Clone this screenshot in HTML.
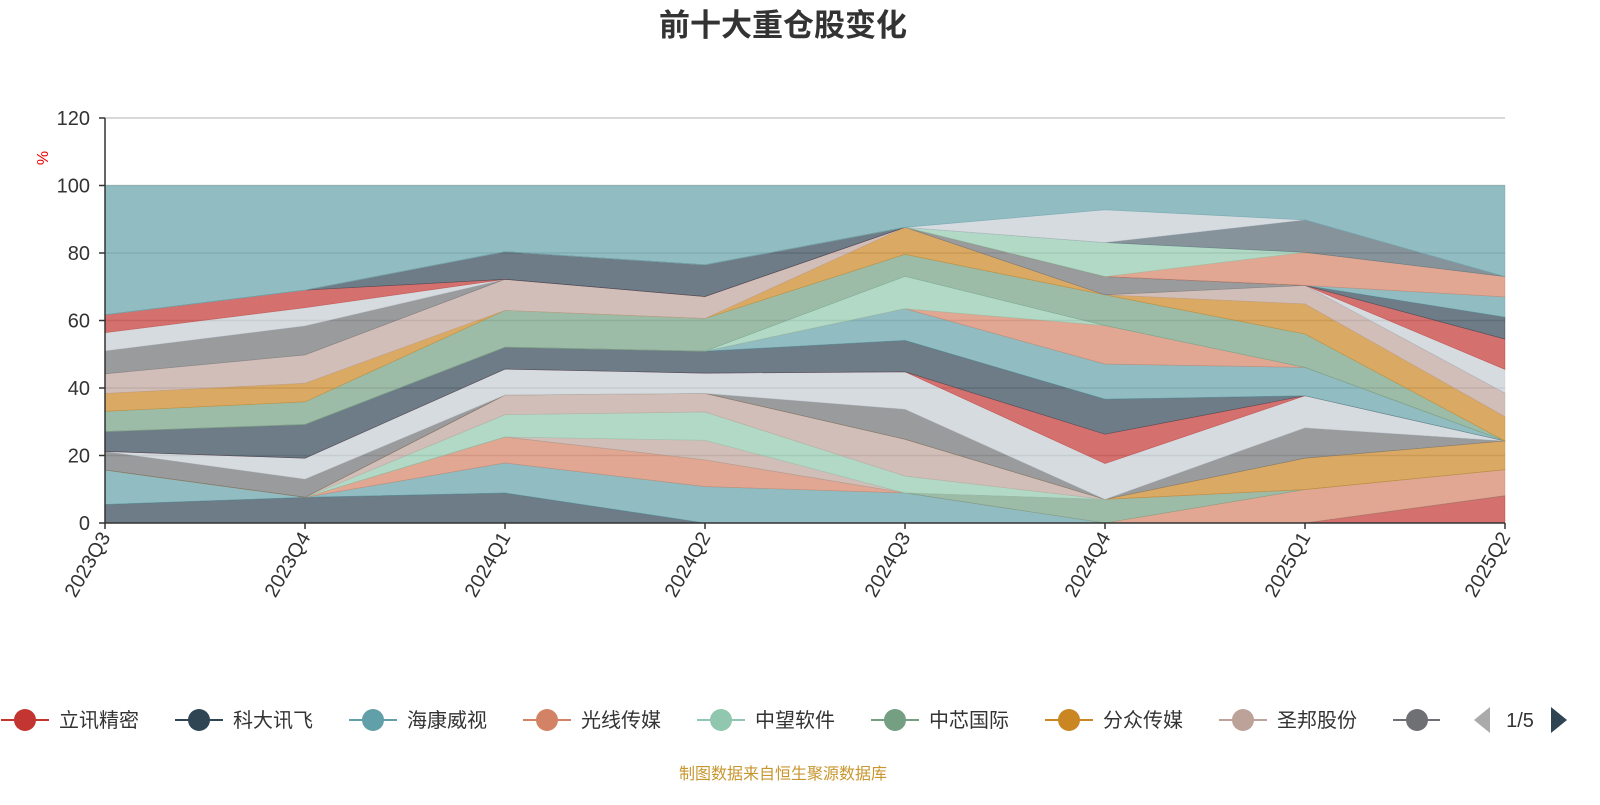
<!DOCTYPE html>
<html><head><meta charset="utf-8"><style>
html,body{margin:0;padding:0;background:#fff;}
svg text{font-family:"Liberation Sans","Noto Sans CJK SC",sans-serif;}
</style></head><body>
<svg id="chart" width="1600" height="800" viewBox="0 0 1600 800" xmlns="http://www.w3.org/2000/svg">
<text x="783" y="36" text-anchor="middle" font-size="31" font-weight="bold" fill="#333">前十大重仓股变化</text>
<text x="0" y="0" transform="translate(48,158) rotate(-90)" text-anchor="middle" font-size="16" fill="#e00">%</text>
<g id="grid"></g>
<g id="areas"></g>
<g id="axes"></g>
<g id="legend"></g>
<g>
<polygon points="1490,707 1490,733 1474,720" fill="#aaa"/>
<text x="1520" y="727" text-anchor="middle" font-size="20" fill="#333">1/5</text>
<polygon points="1551,707 1551,733 1567,720" fill="#2f4554"/>
</g>
<text x="783" y="779" text-anchor="middle" font-size="16" fill="#c8962e">制图数据来自恒生聚源数据库</text>
</svg>
<script>
const categories=["2023Q3","2023Q4","2024Q1","2024Q2","2024Q3","2024Q4","2025Q1","2025Q2"];
const yTicks=[0,20,40,60,80,100,120];
const s01=[0,0,0,0,0,0,0,8.1];
const s02=[5.5,7.6,8.9,0,0,0,0,0];
const s03=[10.2,0,8.9,10.8,8.9,0,0,0];
const s04=[0,0,7.7,7.9,0,0,9.9,7.7];
const s05=[0,0,0,0,0,7.0,0,0];
const s06=[0,0,0,5.8,0,0,0,0];
const s07=[0,0,6.6,8.4,5.0,0,0,0];
const s08=[0,0,5.8,5.5,10.9,0,0,0];
const s09=[0,0,0,0,0,0,9.3,8.5];
const s10=[5.5,5.4,0,0,8.9,0,9.0,0];
const s11=[0,6.2,7.7,6.0,11.1,10.6,9.5,0];
const s12=[0,0,0,0,0,8.7,0,0];
const s13=[5.9,10,6.5,6.5,9.3,10.4,0,0];
const s14=[0,0,0,0,9.4,10.4,8.4,0];
const s15=[0,0,0,0,0,11.4,0,0];
const s16=[0,0,0,0,9.6,0,0,0];
const s17=[6.0,6.7,10.9,9.7,6.5,9.1,9.9,0];
const s18=[5.3,5.5,0,0,8.0,0,8.9,7.2];
const s19=[5.8,8.4,9.2,6.5,0,0,5.5,7.0];
const s20=[6.8,8.6,0,0,0,5.4,0,0];
const s21=[5.4,5.4,0,0,0,0,0,7.0];
const s22=[5.3,5.2,0,0,0,0,0,9.0];
const s23=[0,0,8.2,9.4,0,0,0,6.5];
const s24=[0,0,0,0,0,0,0,6.0];
const s25=[0,0,0,0,0,0,9.8,6.0];
const s26=[0,0,0,0,0,10.1,0,0];
const s27=[0,0,0,0,0,0,9.6,0];
const s28=[0,0,0,0,0,9.7,0,0];
const totalTop=[100,100,100,100,100,100,100,100];
const legendNames=["立讯精密","科大讯飞","海康威视","光线传媒","中望软件","中芯国际","分众传媒","圣邦股份","其他"];
</script>
<script>
const seriesList=[s01,s02,s03,s04,s05,s06,s07,s08,s09,s10,s11,s12,s13,s14,s15,s16,s17,s18,s19,s20,s21,s22,s23,s24,s25,s26,s27,s28];
const C={R:"#c23531",D:"#2f4554",T:"#61a0a8",O:"#d48265",L:"#91c7ae",G:"#749f83",A:"#ca8622",B:"#bda29a",Y:"#6e7074",S:"#546570",W:"#c4ccd3"};
const seriesColors=[C.R,C.D,C.T,C.O,C.G,C.B,C.L,C.B,C.A,C.Y,C.W,C.R,C.D,C.T,C.O,C.L,C.G,C.A,C.B,C.Y,C.W,C.R,C.D,C.T,C.O,C.L,C.S,C.W];
const NS="http://www.w3.org/2000/svg";
const x0=105,dx=200,yBase=523,yScale=3.375;
function xPos(i){return x0+i*dx;}
function yPos(v){return yBase-v*yScale;}
function mk(tag,attrs,parent){const e=document.createElementNS(NS,tag);for(const k in attrs)e.setAttribute(k,attrs[k]);parent.appendChild(e);return e;}
const grid=document.getElementById('grid'),areas=document.getElementById('areas'),axes=document.getElementById('axes'),legend=document.getElementById('legend');
yTicks.forEach(t=>{
  if(t>0){const l=mk('line',{x1:x0,x2:xPos(categories.length-1),y1:yPos(t),y2:yPos(t),stroke:'#ccc','stroke-width':1.5},grid);
  
  }
  const tk=mk('line',{x1:x0-6,x2:x0,y1:yPos(t),y2:yPos(t),stroke:'#333','stroke-width':1.5},axes);
  
  
  const tx=mk('text',{x:x0-15,y:yPos(t)+7,'text-anchor':'end','font-size':20,fill:'#333'},axes);
  tx.textContent=t;
  
  
});
let cum=categories.map(()=>0);
function band(lower,upper,color,name){
  let pts=[];
  for(let i=0;i<categories.length;i++)pts.push(xPos(i)+','+yPos(upper[i]));
  for(let i=categories.length-1;i>=0;i--)pts.push(xPos(i)+','+yPos(lower[i]));
  const p=mk('polygon',{points:pts.join(' '),fill:color,'fill-opacity':0.7,stroke:color,'stroke-opacity':0.6,'stroke-width':0.6},areas);
  
  
}
seriesList.forEach((s,k)=>{
  const lower=cum.slice();
  cum=cum.map((c,i)=>c+s[i]);
  band(lower,cum,seriesColors[k],'area-series-'+(k+1));
});
band(cum,totalTop,C.T,'area-series-other');
mk('line',{x1:x0,x2:x0,y1:yPos(120),y2:yBase,stroke:'#333','stroke-width':1.5},axes);
const xl=mk('line',{x1:x0,x2:xPos(categories.length-1),y1:yBase,y2:yBase,stroke:'#333','stroke-width':1.5},axes);


categories.forEach((c,i)=>{
  const tk=mk('line',{x1:xPos(i),x2:xPos(i),y1:yBase,y2:yBase+6,stroke:'#333','stroke-width':1.5},axes);
  
  
  const t=mk('text',{x:0,y:0,transform:'translate('+(xPos(i)+6)+','+(yBase+14)+') rotate(-60)','text-anchor':'end','font-size':20,fill:'#333'},axes);
  t.textContent=c;
  
  
});
const legendColors=[C.R,C.D,C.T,C.O,C.L,C.G,C.A,C.B,C.Y];
legendNames.forEach((n,i)=>{
  const lx=1+i*174;
  const g=mk('g',{},legend);
  
  
  mk('line',{x1:lx,x2:lx+48,y1:720,y2:720,stroke:legendColors[i],'stroke-width':2},g);
  mk('circle',{cx:lx+24,cy:720,r:11,fill:legendColors[i]},g);
  const t=mk('text',{x:lx+58,y:727,'font-size':20,fill:'#333'},g);
  t.textContent=n;
});
mk('rect',{x:1440,y:700,width:160,height:40,fill:'#fff'},legend);
</script>
</body></html>
